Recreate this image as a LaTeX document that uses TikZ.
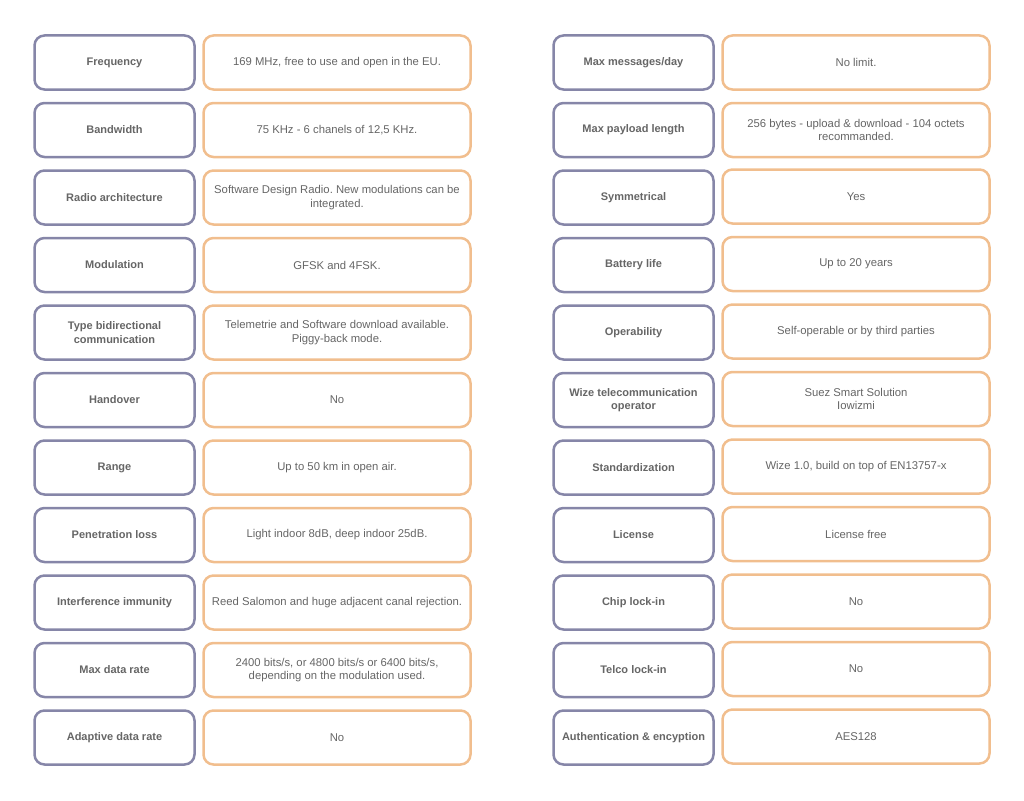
\documentclass[tikz,border=0pt]{standalone}
\usepackage{fontspec}
\setmainfont{Liberation Sans}
\frenchspacing
\definecolor{lblc}{HTML}{8686A8}
\definecolor{valc}{HTML}{F1BE8E}
\definecolor{txtc}{HTML}{666666}
\begin{document}
\begin{tikzpicture}[x=1pt,y=-1pt,
  box/.style={rounded corners=10pt,line width=2.5pt,fill=white,inner sep=0pt,
    align=center,text=txtc,font=\fontsize{11.3}{13.5}\selectfont,minimum height=54pt},
  lbl/.style={box,draw=lblc,minimum width=160pt,font=\fontsize{11}{13.5}\selectfont\bfseries},
  val/.style={box,draw=valc,minimum width=267pt}]
\useasboundingbox (0,0) rectangle (1024,800);
\def\ry#1{62.5+67.5*#1}
% left column
\node[lbl] (l0) at (114.5,{\ry{0}}) {Frequency};
\node[val] (v0) at (337,{\ry{0}}) {169 MHz, free to use and open in the EU.};
\node[lbl] (l1) at (114.5,{\ry{1}}) {Bandwidth};
\node[val] (v1) at (337,{\ry{1}}) {75 KHz - 6 chanels of 12,5 KHz.};
\node[lbl] (l2) at (114.5,{\ry{2}}) {Radio architecture};
\node[val] (v2) at (337,{\ry{2}}) {Software Design Radio. New modulations can be\\integrated.};
\node[lbl] (l3) at (114.5,{\ry{3}}) {Modulation};
\node[val] (v3) at (337,{\ry{3}}) {GFSK and 4FSK.};
\node[lbl] (l4) at (114.5,{\ry{4}}) {Type bidirectional\\communication};
\node[val] (v4) at (337,{\ry{4}}) {Telemetrie and Software download available.\\Piggy-back mode.};
\node[lbl] (l5) at (114.5,{\ry{5}}) {Handover};
\node[val] (v5) at (337,{\ry{5}}) {No};
\node[lbl] (l6) at (114.5,{\ry{6}}) {Range};
\node[val] (v6) at (337,{\ry{6}}) {Up to 50 km in open air.};
\node[lbl] (l7) at (114.5,{\ry{7}}) {Penetration loss};
\node[val] (v7) at (337,{\ry{7}}) {Light indoor 8dB, deep indoor 25dB.};
\node[lbl] (l8) at (114.5,{\ry{8}}) {Interference immunity};
\node[val] (v8) at (337,{\ry{8}}) {Reed Salomon and huge adjacent canal rejection.};
\node[lbl] (l9) at (114.5,{\ry{9}}) {Max data rate};
\node[val] (v9) at (337,{\ry{9}}) {2400 bits/s, or 4800 bits/s or 6400 bits/s,\\depending on the modulation used.};
\node[lbl] (l10) at (114.5,{\ry{10}}) {Adaptive data rate};
\node[val] (v10) at (337,{\ry{10}}) {No};
% right column
\node[lbl] (r0) at (633.5,{\ry{0}}) {Max messages/day};
\node[val] (w0) at (856,{\ry{0}}) {No limit.};
\node[lbl] (r1) at (633.5,{\ry{1}}) {Max payload length};
\node[val] (w1) at (856,{\ry{1}}) {256 bytes - upload \& download - 104 octets\\recommanded.};
\node[lbl] (r2) at (633.5,{\ry{2}}) {Symmetrical};
\node[val] (w2) at (856,{\ry{2}-1}) {Yes};
\node[lbl] (r3) at (633.5,{\ry{3}}) {Battery life};
\node[val] (w3) at (856,{\ry{3}-1}) {Up to 20 years};
\node[lbl] (r4) at (633.5,{\ry{4}}) {Operability};
\node[val] (w4) at (856,{\ry{4}-1}) {Self-operable or by third parties};
\node[lbl] (r5) at (633.5,{\ry{5}}) {Wize telecommunication\\operator};
\node[val] (w5) at (856,{\ry{5}-1}) {Suez Smart Solution\\Iowizmi};
\node[lbl] (r6) at (633.5,{\ry{6}}) {Standardization};
\node[val] (w6) at (856,{\ry{6}-1}) {Wize 1.0, build on top of EN13757-x};
\node[lbl] (r7) at (633.5,{\ry{7}}) {License};
\node[val] (w7) at (856,{\ry{7}-1}) {License free};
\node[lbl] (r8) at (633.5,{\ry{8}}) {Chip lock-in};
\node[val] (w8) at (856,{\ry{8}-1}) {No};
\node[lbl] (r9) at (633.5,{\ry{9}}) {Telco lock-in};
\node[val] (w9) at (856,{\ry{9}-1}) {No};
\node[lbl] (r10) at (633.5,{\ry{10}}) {Authentication \& encyption};
\node[val] (w10) at (856,{\ry{10}-1}) {AES128};
\end{tikzpicture}
\end{document}
